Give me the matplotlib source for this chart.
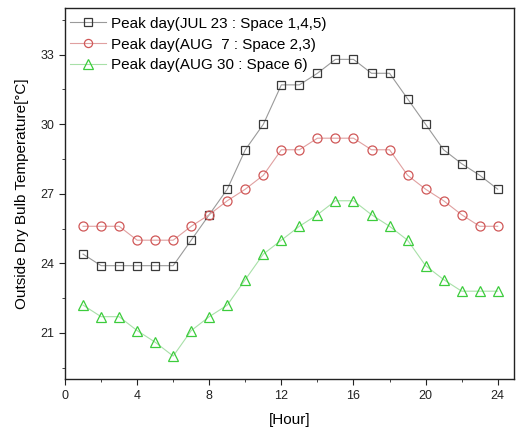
import numpy as np
import matplotlib.pyplot as plt
from matplotlib.ticker import MultipleLocator

plt.rcParams['font.family'] = ['Liberation Sans', 'DejaVu Sans']

hours = np.arange(1, 25)

jul23 = [24.4, 23.9, 23.9, 23.9, 23.9, 23.9, 25.0, 26.1, 27.2, 28.9, 30.0, 31.7,
         31.7, 32.2, 32.8, 32.8, 32.2, 32.2, 31.1, 30.0, 28.9, 28.3, 27.8, 27.2]
aug7 = [25.6, 25.6, 25.6, 25.0, 25.0, 25.0, 25.6, 26.1, 26.7, 27.2, 27.8, 28.9,
        28.9, 29.4, 29.4, 29.4, 28.9, 28.9, 27.8, 27.2, 26.7, 26.1, 25.6, 25.6]
aug30 = [22.2, 21.7, 21.7, 21.1, 20.6, 20.0, 21.1, 21.7, 22.2, 23.3, 24.4, 25.0,
         25.6, 26.1, 26.7, 26.7, 26.1, 25.6, 25.0, 23.9, 23.3, 22.8, 22.8, 22.8]

labels = ['Peak day(JUL 23 : Space 1,4,5)',
          'Peak day(AUG  7 : Space 2,3)',
          'Peak day(AUG 30 : Space 6)']

fig = plt.figure(figsize=(5.16, 4.4), dpi=100)
ax = fig.add_axes([0.126, 0.138, 0.87, 0.843])

ax.plot(hours, jul23, color='#9a9a9a', lw=0.8, marker='s', ms=6,
        mfc='none', mec='#3a3a3a', mew=0.9, label=labels[0])
ax.plot(hours, aug7, color='#e0a0a0', lw=0.8, marker='o', ms=6.5,
        mfc='none', mec='#d05858', mew=0.9, label=labels[1])
ax.plot(hours, aug30, color='#a8e0a8', lw=0.8, marker='^', ms=7.5,
        mfc='none', mec='#3ccc3c', mew=0.9, label=labels[2])

ax.set_xlim(0, 24.9)
ax.set_ylim(19, 35)
ax.xaxis.set_major_locator(MultipleLocator(4))
ax.xaxis.set_minor_locator(MultipleLocator(2))
ax.set_yticks([21, 24, 27, 30, 33])
ax.yaxis.set_minor_locator(MultipleLocator(1.5))
ax.tick_params(which='both', direction='out', top=False, right=False,
               labelsize=9, colors='#222222')
ax.tick_params(which='major', length=4)
ax.tick_params(which='minor', length=2.5)
for sp in ax.spines.values():
    sp.set_linewidth(1.0)
    sp.set_color('#222222')

ax.set_xlabel('[Hour]', fontsize=11, labelpad=8)
ax.set_ylabel('Outside Dry Bulb Temperature[\u00b0C]', fontsize=11, labelpad=8)

ax.legend(loc='upper left', bbox_to_anchor=(0.0, 0.992), frameon=False,
          fontsize=11, handlelength=2.3, handletextpad=0.35, labelspacing=0.45,
          borderaxespad=0.15, borderpad=0.2, markerscale=0.9)

fig.savefig('out.png', dpi=100)
